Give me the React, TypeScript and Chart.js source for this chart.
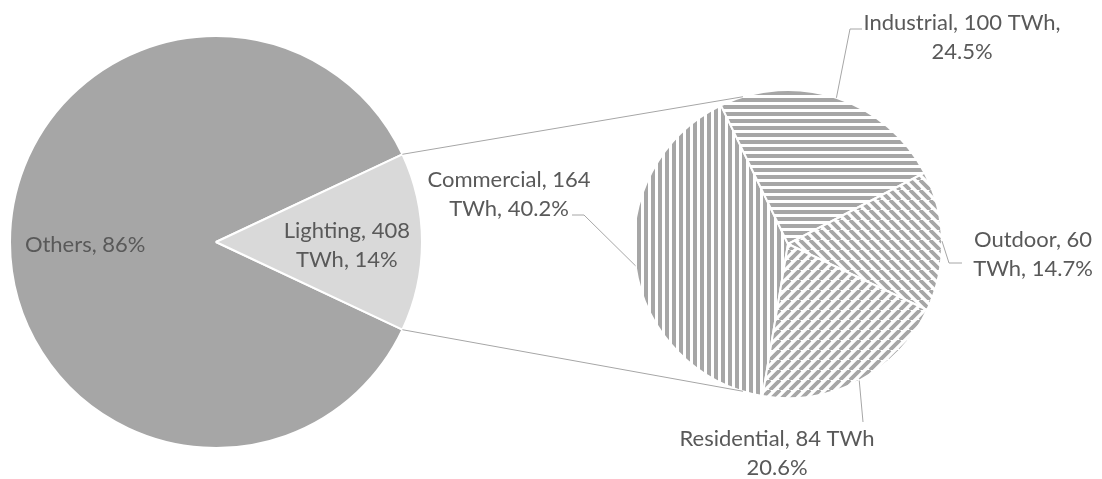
import React, { useEffect, useRef } from 'react';
import { Chart, registerables } from 'chart.js';

Chart.register(...registerables);

// ---------- data ----------
const mainCategories = ['Others', 'Lighting'];
const mainShares = [86, 14]; // percent of total electricity
const mainLabelLines = [['Others, 86%'], ['Lighting, 408', 'TWh, 14%']];

const subCategories = ['Commercial', 'Industrial', 'Outdoor', 'Residential'];
const subValues = [164, 100, 60, 84]; // TWh
const subLabelLines = [
  ['Commercial, 164', 'TWh, 40.2%'],
  ['Industrial, 100 TWh,', '24.5%'],
  ['Outdoor, 60', 'TWh, 14.7%'],
  ['Residential, 84 TWh', '20.6%'],
];

// ---------- layout / style ----------
const W = 1102;
const H = 479;
const MAIN = { cx: 216, cy: 242, r: 206 };
const SUB = { cx: 788, cy: 244, r: 154, rotation: 189.5 };
const FONT = '22px Lato, "Open Sans", sans-serif';
const TEXT = '#595959';
const LINE = '#a6a6a6';
const STRIPE = '#a6a6a6';
const LINE_H = 29;
const CONNECT_ANGLE = 17; // degrees away from vertical on the small pie
// label anchors: centre x, first baseline y, elbow points for leader lines
const SUB_LABEL_POS = [
  { x: 509, y: 187, elbow: [[572, 215], [584, 215]] },
  { x: 962, y: 30, elbow: [[862, 29], [850, 29]] },
  { x: 1033, y: 247, elbow: [[962, 263], [949, 263]] },
  { x: 777, y: 446, elbow: [[863, 422]] },
];
const MAIN_LABEL_RADIUS = 0.635;

function padFor(c: { cx: number; cy: number; r: number }) {
  const s = 6;
  return {
    left: c.cx - c.r - s,
    right: W - (c.cx + c.r + s),
    top: c.cy - c.r - s,
    bottom: H - (c.cy + c.r + s),
  };
}

function makePattern(ctx: CanvasRenderingContext2D, kind: string) {
  const s = kind === 'v' || kind === 'h' ? 7 : 10;
  const t = document.createElement('canvas');
  t.width = s;
  t.height = s;
  const g = t.getContext('2d')!;
  g.fillStyle = '#ffffff';
  g.fillRect(0, 0, s, s);
  g.fillStyle = STRIPE;
  g.strokeStyle = STRIPE;
  if (kind === 'v') g.fillRect(0, 0, 4, s);
  else if (kind === 'h') g.fillRect(0, 0, s, 4);
  else {
    g.lineWidth = 3.8;
    g.beginPath();
    for (const k of [-1, 0, 1]) {
      if (kind === 'up') {
        g.moveTo(k * s, s);
        g.lineTo(k * s + s, 0);
      } else {
        g.moveTo(k * s, 0);
        g.lineTo(k * s + s, s);
      }
    }
    g.stroke();
  }
  return ctx.createPattern(t, 'repeat')!;
}

function drawLines(ctx: CanvasRenderingContext2D, lines: string[], x: number, y: number) {
  ctx.save();
  ctx.font = FONT;
  ctx.fillStyle = TEXT;
  ctx.textAlign = 'center';
  ctx.textBaseline = 'alphabetic';
  lines.forEach((l, i) => ctx.fillText(l, x, y + i * LINE_H));
  ctx.restore();
}

export default function App() {
  const c1 = useRef<HTMLCanvasElement>(null);
  const c2 = useRef<HTMLCanvasElement>(null);

  useEffect(() => {
    const mainTotal = mainShares.reduce((a, b) => a + b, 0);
    const lightDeg = (360 * mainShares[1]) / mainTotal;

    const mainLabelPlugin = {
      id: 'mainLabels',
      afterDatasetsDraw(chart: any) {
        const ctx = chart.ctx;
        const arcs = chart.getDatasetMeta(0).data;
        arcs.forEach((a: any, i: number) => {
          const mid = (a.startAngle + a.endAngle) / 2;
          const rr = a.outerRadius * MAIN_LABEL_RADIUS;
          const x = a.x + Math.cos(mid) * rr;
          const y = a.y + Math.sin(mid) * rr;
          const lines = mainLabelLines[i];
          const first = y + 10 - ((lines.length - 1) * LINE_H) / 2;
          drawLines(ctx, lines, x, first);
        });
      },
    };

    const main = new Chart(c1.current!, {
      type: 'pie',
      data: {
        labels: mainCategories,
        datasets: [
          {
            data: mainShares,
            backgroundColor: ['#a6a6a6', '#d9d9d9'],
            borderColor: '#ffffff',
            borderWidth: 2,
            radius: MAIN.r,
          } as any,
        ],
      },
      options: {
        responsive: false,
        animation: false,
        events: [],
        rotation: 90 + lightDeg / 2,
        layout: { padding: padFor(MAIN) },
        plugins: { legend: { display: false }, tooltip: { enabled: false } },
      },
      plugins: [mainLabelPlugin],
    });

    const ctx2 = c2.current!.getContext('2d')!;
    const patterns = [
      makePattern(ctx2, 'v'),
      makePattern(ctx2, 'h'),
      makePattern(ctx2, 'down'),
      makePattern(ctx2, 'up'),
    ];

    const subPlugin = {
      id: 'subDecor',
      afterDatasetsDraw(chart: any) {
        const ctx = chart.ctx;
        const arcs = chart.getDatasetMeta(0).data;
        const a0 = arcs[0];
        const cx = a0.x;
        const cy = a0.y;
        const R = a0.outerRadius;
        // connectors from main "Lighting" wedge
        const light = main.getDatasetMeta(0).data[1] as any;
        const rL = light.outerRadius;
        const pTop = [light.x + Math.cos(light.startAngle) * rL, light.y + Math.sin(light.startAngle) * rL];
        const pBot = [light.x + Math.cos(light.endAngle) * rL, light.y + Math.sin(light.endAngle) * rL];
        const ang = (CONNECT_ANGLE * Math.PI) / 180;
        const qTop = [cx - Math.sin(ang) * R, cy - Math.cos(ang) * R];
        const qBot = [cx - Math.sin(ang) * R, cy + Math.cos(ang) * R];
        ctx.save();
        ctx.strokeStyle = LINE;
        ctx.lineWidth = 1;
        ctx.beginPath();
        ctx.moveTo(pTop[0], pTop[1]);
        ctx.lineTo(qTop[0], qTop[1]);
        ctx.moveTo(pBot[0], pBot[1]);
        ctx.lineTo(qBot[0], qBot[1]);
        ctx.stroke();
        // leader lines + labels
        arcs.forEach((a: any, i: number) => {
          const mid = (a.startAngle + a.endAngle) / 2;
          const ex = cx + Math.cos(mid) * R;
          const ey = cy + Math.sin(mid) * R;
          const pos = SUB_LABEL_POS[i];
          ctx.beginPath();
          pos.elbow.forEach((p, j) => (j === 0 ? ctx.moveTo(p[0], p[1]) : ctx.lineTo(p[0], p[1])));
          ctx.lineTo(ex, ey);
          ctx.stroke();
          drawLines(ctx, subLabelLines[i], pos.x, pos.y);
        });
        ctx.restore();
      },
    };

    const sub = new Chart(c2.current!, {
      type: 'pie',
      data: {
        labels: subCategories,
        datasets: [
          {
            data: subValues,
            backgroundColor: patterns,
            borderColor: '#ffffff',
            borderWidth: 2,
            radius: SUB.r,
          } as any,
        ],
      },
      options: {
        responsive: false,
        animation: false,
        events: [],
        rotation: SUB.rotation,
        layout: { padding: padFor(SUB) },
        plugins: { legend: { display: false }, tooltip: { enabled: false } },
      },
      plugins: [subPlugin],
    });

    return () => {
      sub.destroy();
      main.destroy();
    };
  }, []);

  return (
    <div style={{ position: 'fixed', left: 0, top: 0, width: W, height: H, background: '#ffffff' }}>
      <canvas ref={c1} width={W} height={H} style={{ position: 'absolute', left: 0, top: 0 }} />
      <canvas ref={c2} width={W} height={H} style={{ position: 'absolute', left: 0, top: 0 }} />
    </div>
  );
}
